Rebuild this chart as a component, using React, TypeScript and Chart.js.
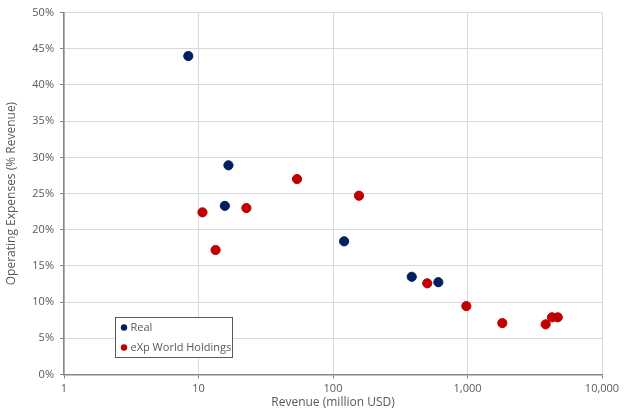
import React, { useEffect, useRef } from "react";
import { Chart, registerables } from "chart.js";

Chart.register(...registerables);

const seriesNames = ["Real", "eXp World Holdings"];
const seriesColors = ["#002060", "#C00000"];

const realRevenue = [8.4, 16.7, 15.7, 121, 385, 607];
const realOpex = [44.0, 28.9, 23.3, 18.4, 13.5, 12.75];

const expRevenue = [10.7, 13.4, 22.7, 54, 156, 502, 980, 1815, 3811, 4249, 4686];
const expOpex = [22.4, 17.2, 23.0, 27.0, 24.7, 12.6, 9.45, 7.1, 6.93, 7.9, 7.9];

const xTickValues = [1, 10, 100, 1000, 10000];

const FONT = "'Open Sans', 'Liberation Sans', sans-serif";
const TEXT = "#595959";

const legendPlugin = {
  id: "insideLegend",
  afterDraw(chart: any) {
    const ctx = chart.ctx;
    const x = 115.5, y = 317.5, w = 117, h = 40;
    ctx.save();
    ctx.fillStyle = "#ffffff";
    ctx.fillRect(x, y, w, h);
    ctx.strokeStyle = "#595959";
    ctx.lineWidth = 1;
    ctx.strokeRect(x, y, w, h);
    ctx.font = `11px ${FONT}`;
    ctx.textBaseline = "middle";
    chart.data.datasets.forEach((ds: any, i: number) => {
      const cy = 327.5 + i * 20;
      ctx.fillStyle = ds.backgroundColor;
      ctx.beginPath();
      ctx.arc(124, cy, 3.2, 0, Math.PI * 2);
      ctx.fill();
      ctx.fillStyle = TEXT;
      ctx.fillText(ds.label, 130.5, cy);
    });
    ctx.restore();
  },
};

export default function App() {
  const ref = useRef<HTMLCanvasElement | null>(null);
  useEffect(() => {
    document.body.style.margin = "0";
    const toPts = (xs: number[], ys: number[]) => xs.map((x, i) => ({ x, y: ys[i] }));
    const chart = new Chart(ref.current as HTMLCanvasElement, {
      type: "scatter",
      data: {
        datasets: [
          {
            label: seriesNames[0],
            data: toPts(realRevenue, realOpex),
            backgroundColor: seriesColors[0],
            borderColor: seriesColors[0],
            pointRadius: 4.6,
            pointHoverRadius: 4.6,
          },
          {
            label: seriesNames[1],
            data: toPts(expRevenue, expOpex),
            backgroundColor: seriesColors[1],
            borderColor: seriesColors[1],
            pointRadius: 4.6,
            pointHoverRadius: 4.6,
          },
        ],
      },
      options: {
        animation: false,
        responsive: false,
        layout: { padding: { left: 0, right: 38, top: 11, bottom: 0 } },
        plugins: { legend: { display: false }, tooltip: { enabled: false } },
        scales: {
          x: {
            type: "logarithmic",
            min: 1,
            max: 10000,
            afterBuildTicks: (scale: any) => {
              scale.ticks = xTickValues.map((value) => ({ value, major: true }));
            },
            afterFit: (scale: any) => {
              scale.height = 43.5;
            },
            ticks: {
              color: TEXT,
              font: { family: FONT, size: 11 },
              padding: 4,
              autoSkip: false,
              maxRotation: 0,
              callback: (v: any) => Number(v).toLocaleString("en-US"),
            },
            grid: { color: "#d9d9d9", tickColor: "#868686", tickLength: 4, lineWidth: 1 },
            border: { color: "#868686", width: 1.5 },
            title: {
              display: true,
              text: "Revenue (million USD)",
              color: TEXT,
              font: { family: FONT, size: 12 },
              padding: { top: 2, bottom: 8 },
            },
          },
          y: {
            min: 0,
            max: 50,
            afterFit: (scale: any) => {
              scale.width = 64;
            },
            ticks: {
              stepSize: 5,
              color: TEXT,
              font: { family: FONT, size: 11 },
              padding: 6,
              callback: (v: any) => v + "%",
            },
            grid: { color: "#d9d9d9", tickColor: "#868686", tickLength: 4, lineWidth: 1 },
            border: { color: "#868686", width: 1.5 },
            title: {
              display: true,
              text: "Operating Expenses (% Revenue)",
              color: TEXT,
              font: { family: FONT, size: 12 },
              padding: { top: 4, bottom: 4 },
            },
          },
        },
      },
      plugins: [legendPlugin],
    });
    return () => chart.destroy();
  }, []);
  return <canvas ref={ref} width={640} height={418} style={{ display: "block" }} />;
}
